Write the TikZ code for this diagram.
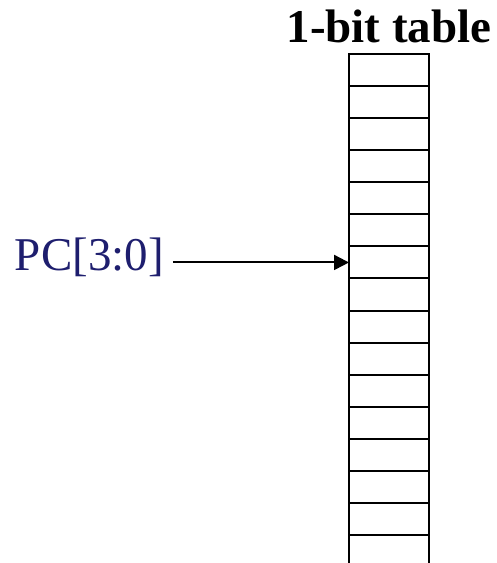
\documentclass[tikz,border=0pt]{standalone}
\usepackage{fontspec}
\setmainfont{Liberation Serif}
\usetikzlibrary{arrows.meta}
\definecolor{pcblue}{RGB}{30,30,110}
\begin{document}
\begin{tikzpicture}[x=1pt,y=-1pt,
  rowbox/.style={draw=black,line width=2pt,rectangle,minimum width=80pt,minimum height=32.07pt,inner sep=0pt,outer sep=0pt},
  bigtext/.style={font=\fontsize{47}{56}\selectfont,inner sep=0pt,outer sep=0pt}]
\useasboundingbox (0,0) rectangle (496,563);
\foreach \i in {1,...,16}{
  \node[rowbox] (r\i) at (389,{54+(\i-0.5)*32.07}) {};
}
\node[bigtext,font=\fontsize{47}{56}\selectfont\bfseries,anchor=base] (title) at (389,42.3) {1-bit table};
\node[bigtext,text=pcblue,anchor=base west] (pc) at (15,270) {PC[3:0]};
\draw[line width=2pt,-{Triangle[length=15pt,width=15pt]}] ([xshift=9pt]pc.east |- r7.west) -- (r7.west);
\end{tikzpicture}
\end{document}
